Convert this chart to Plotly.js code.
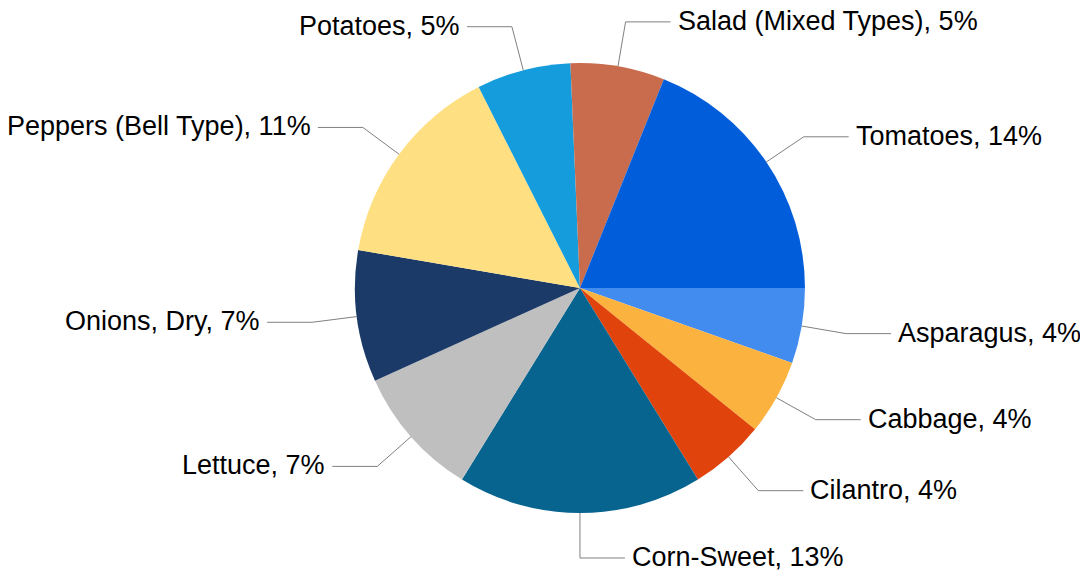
<!DOCTYPE html>
<html>
<head>
<meta charset="utf-8">
<script src="https://cdn.plot.ly/plotly-3.0.1.min.js"></script>
<style>html,body{margin:0;padding:0;background:#fff;}#chart{width:1080px;height:574px;}</style>
</head>
<body>
<div id="chart"></div>
<script>
const categories = ["Asparagus", "Cabbage", "Cilantro", "Corn-Sweet", "Lettuce", "Onions, Dry", "Peppers (Bell Type)", "Potatoes", "Salad (Mixed Types)", "Tomatoes"];
const percents = [4, 4, 4, 13, 7, 7, 11, 5, 5, 14];
const colors = ["#428CF0", "#FBB23F", "#E0430C", "#07648F", "#BFBFBF", "#1B3A67", "#FEE082", "#159CDD", "#C96C4D", "#025DDB"];

const W = 1080, H = 574;
const M = {l: 0, r: 0, t: 63, b: 61};
const plotW = W - M.l - M.r, plotH = H - M.t - M.b;
const domX = [0.537 - 0.25, 0.537 + 0.25];
const rotation = 90;

// geometry derived from the pie's own domain
const cx = M.l + plotW * (domX[0] + domX[1]) / 2;
const cy = M.t + plotH / 2;
const R = Math.min(plotW * (domX[1] - domX[0]), plotH) / 2;
const elbowR = R * 1.2, horiz = 45, gap = 5;

const toPx = px => (px - M.l) / plotW;
const toPy = py => 1 - (py - M.t) / plotH;

const total = percents.reduce((a, b) => a + b, 0);
const shapes = [], annotations = [];
let cum = 0;
percents.forEach((v, i) => {
  const mid = (rotation + (cum + v / 2) / total * 360) * Math.PI / 180;
  cum += v;
  const s = Math.sin(mid), c = Math.cos(mid);
  const x0 = cx + R * s, y0 = cy - R * c;
  const x1 = cx + elbowR * s, y1 = cy - elbowR * c;
  const right = s > -0.01;
  const x2 = right ? x1 + horiz : x1 - horiz;
  shapes.push({
    type: 'path', xref: 'paper', yref: 'paper',
    path: `M ${toPx(x0)} ${toPy(y0)} L ${toPx(x1)} ${toPy(y1)} L ${toPx(x2)} ${toPy(y1)}`,
    line: {color: '#808080', width: 1}
  });
  annotations.push({
    xref: 'paper', yref: 'paper',
    x: toPx(right ? x2 + gap : x2 - gap), y: toPy(y1 - 1),
    xanchor: right ? 'left' : 'right', yanchor: 'middle',
    text: categories[i] + ', ' + v + '%',
    showarrow: false,
    font: {family: 'Liberation Sans, Arial, sans-serif', size: 27, color: '#000'}
  });
});

const data = [{
  type: 'pie',
  labels: categories,
  values: percents,
  sort: false,
  direction: 'clockwise',
  rotation: rotation,
  marker: {colors: colors, line: {width: 0}},
  textinfo: 'none',
  hoverinfo: 'skip',
  domain: {x: domX, y: [0, 1]}
}];

const layout = {
  width: W, height: H,
  margin: M,
  showlegend: false,
  paper_bgcolor: '#fff',
  plot_bgcolor: '#fff',
  shapes: shapes,
  annotations: annotations
};

Plotly.newPlot('chart', data, layout, {displayModeBar: false, staticPlot: true});
</script>
</body>
</html>
